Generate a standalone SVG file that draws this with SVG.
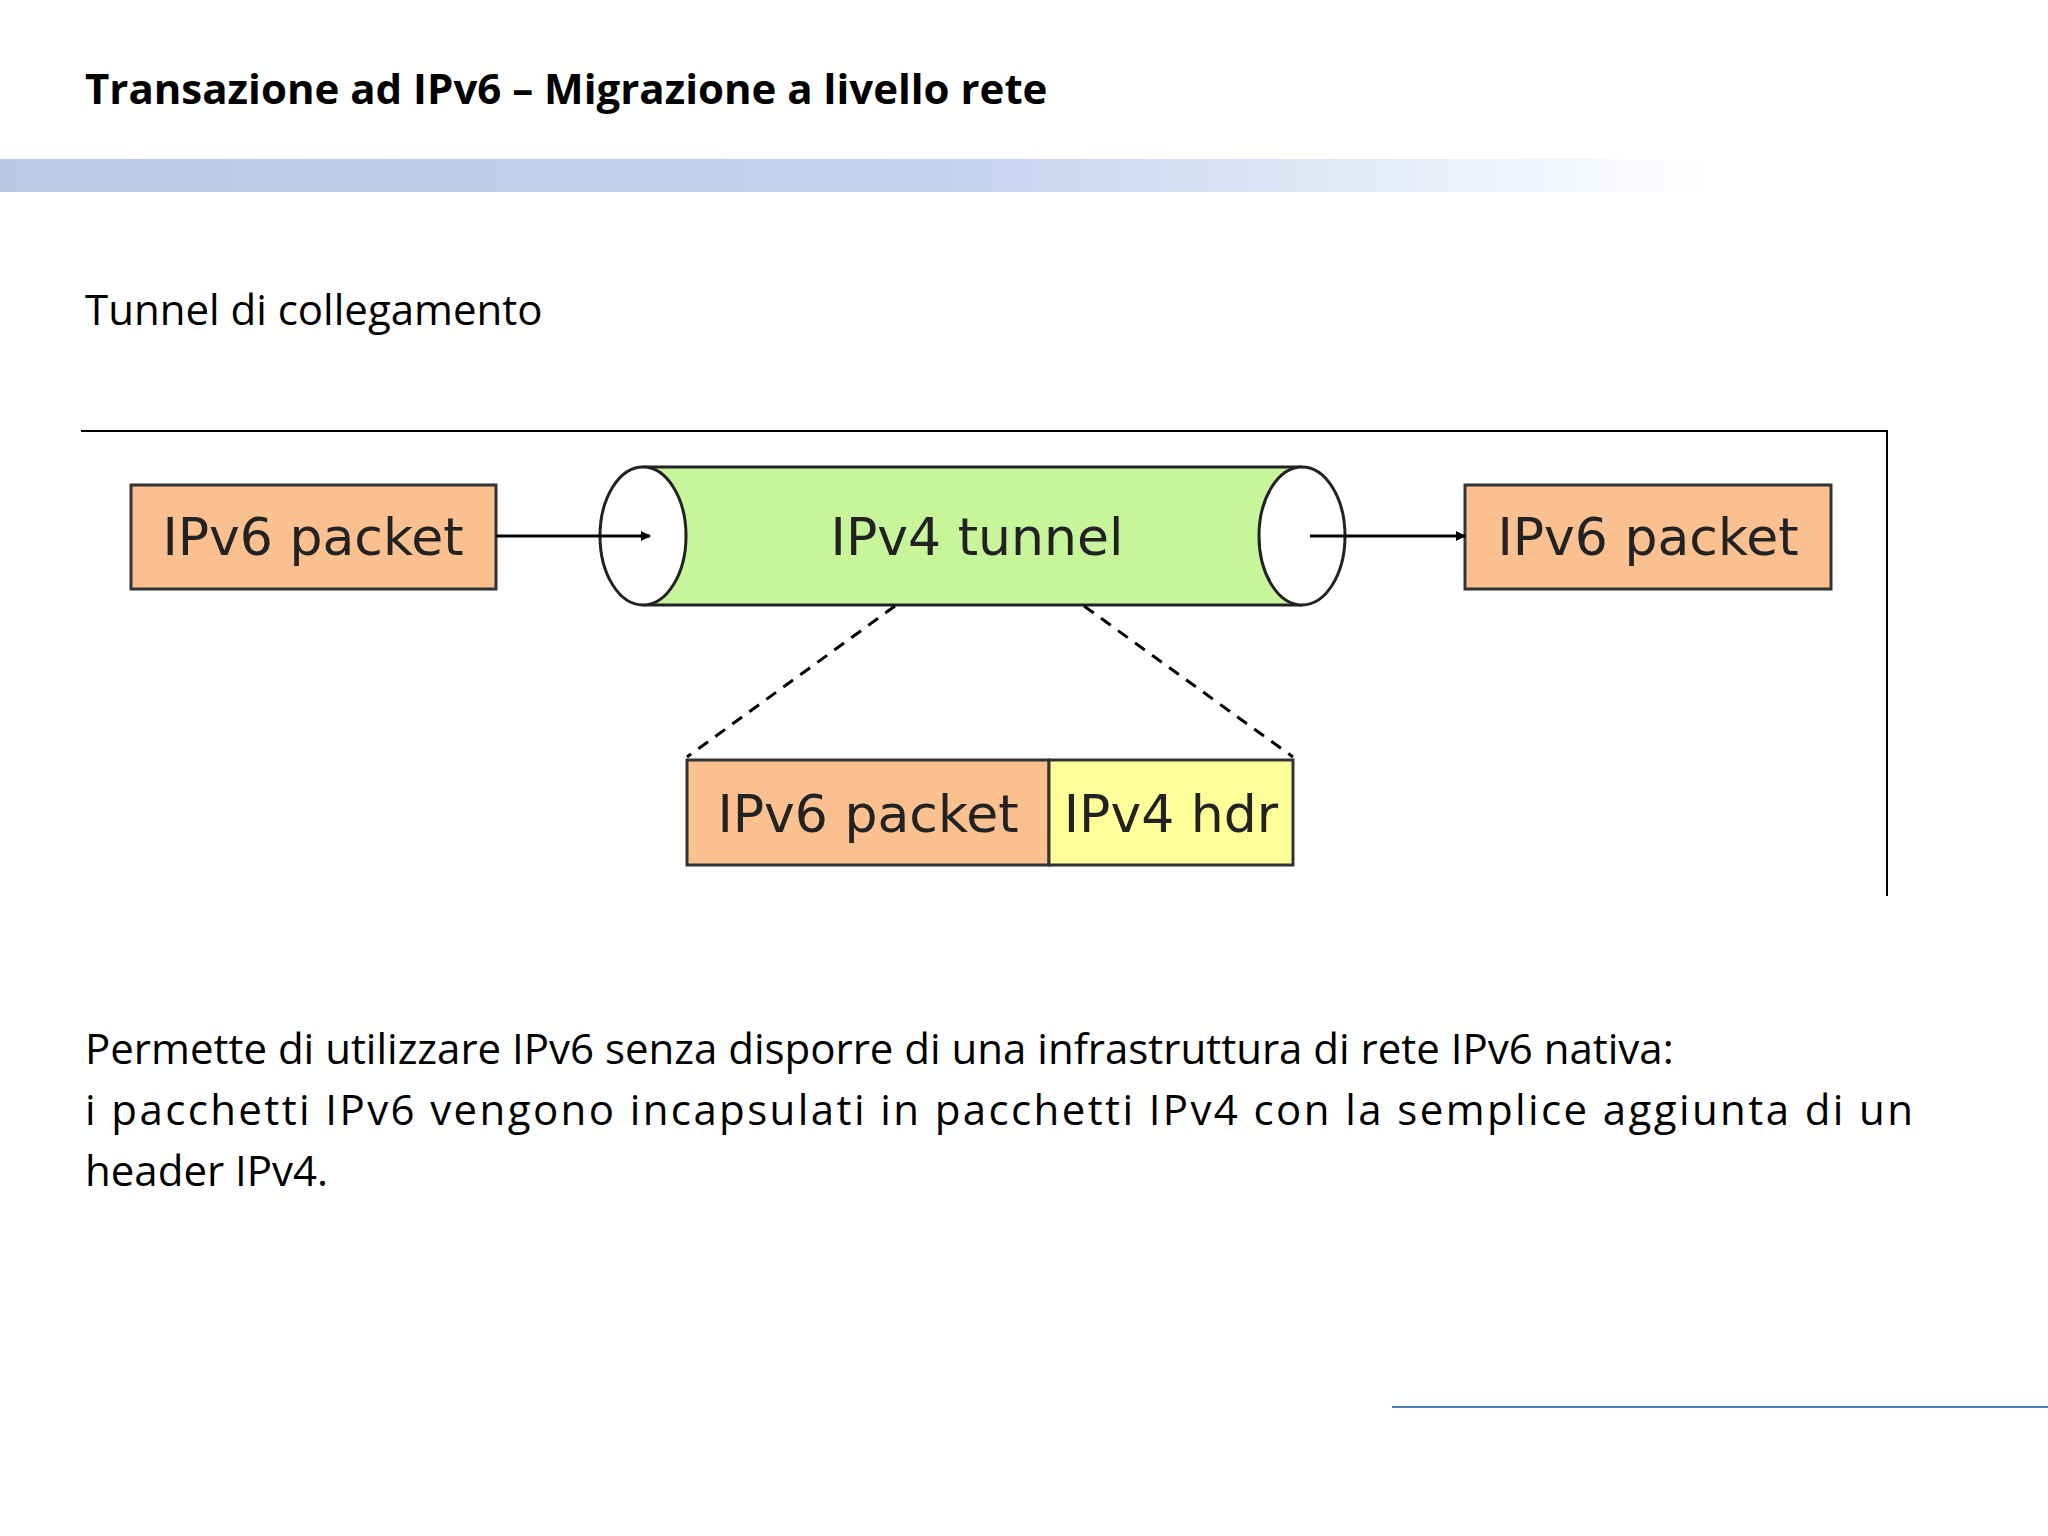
<svg xmlns="http://www.w3.org/2000/svg" width="2048" height="1536" viewBox="0 0 2048 1536">
<defs>
<linearGradient id="bar" x1="0" x2="1" y1="0" y2="0"><stop offset="0" stop-color="#b8c9e6"/><stop offset="0.55" stop-color="#c3d2ee"/><stop offset="1" stop-color="#ffffff"/></linearGradient>
<marker id="ah" markerWidth="10" markerHeight="10" refX="9" refY="5" orient="auto" markerUnits="userSpaceOnUse"><path d="M0,0 L10,5 L0,10 z" fill="#000"/></marker>
<style>
.t{font-family:"Open Sans","Liberation Sans",sans-serif;fill:#000}
.d{font-family:"DejaVu Sans","Liberation Sans",sans-serif;font-size:52px;fill:#222}
.box{stroke:#333;stroke-width:3}
</style>
</defs>
<rect width="2048" height="1536" fill="#fff"/>
<text class="t" x="85" y="104" font-size="42" font-weight="bold">Transazione ad IPv6 – Migrazione a livello rete</text>
<rect x="0" y="159" width="1720" height="33" fill="url(#bar)"/>
<text class="t" x="85" y="325" font-size="42">Tunnel di collegamento</text>
<g id="frame" fill="none" stroke="#000" stroke-width="2"><path d="M81,431 H1887 V896"/></g>
<g id="left"><rect class="box" x="131" y="485" width="365" height="104" fill="#fac090"/><text class="d" x="313" y="555" text-anchor="middle">IPv6 packet</text></g>
<g id="tunnel">
<path d="M643,467 H1302 V605 H643 Z" fill="#c6f59a" stroke="none"/>
<path d="M643,467 H1302 M643,605 H1302" stroke="#222" stroke-width="3"/>
<ellipse cx="643" cy="536" rx="43" ry="69" fill="#fff" stroke="#222" stroke-width="3"/>
<path d="M1302,467 A43,69 0 0 0 1302,605" fill="#fff" stroke="#222" stroke-width="3"/>
<path d="M1302,467 A43,69 0 0 1 1302,605" fill="#fff" stroke="#222" stroke-width="3"/>
<text class="d" x="977" y="555" text-anchor="middle">IPv4 tunnel</text>
</g>
<g id="right"><rect class="box" x="1465" y="485" width="366" height="104" fill="#fac090"/><text class="d" x="1648" y="555" text-anchor="middle">IPv6 packet</text></g>
<g id="bottom">
<rect class="box" x="687" y="760" width="362" height="105" fill="#fac090"/>
<rect class="box" x="1049" y="760" width="244" height="105" fill="#ffff99"/>
<text class="d" x="868" y="832" text-anchor="middle">IPv6 packet</text>
<text class="d" x="1171" y="832" text-anchor="middle">IPv4 hdr</text>
</g>
<g id="connectors" stroke="#000" stroke-width="3" fill="none">
<path d="M496,536 H650" marker-end="url(#ah)"/>
<path d="M1310,536 H1465" marker-end="url(#ah)"/>
<path d="M895,606 L687,757" stroke-dasharray="12,9"/>
<path d="M1084,606 L1293,757" stroke-dasharray="12,9"/>
</g>
<text class="t" x="85" y="1064" font-size="42">Permette di utilizzare IPv6 senza disporre di una infrastruttura di rete IPv6 nativa:</text>
<text class="t" x="85" y="1125" font-size="42" textLength="1828" lengthAdjust="spacing">i pacchetti IPv6 vengono incapsulati in pacchetti IPv4 con la semplice aggiunta di un</text>
<text class="t" x="85" y="1186" font-size="42">header IPv4.</text>
<path d="M1392,1407 H2048" stroke="#4f81bd" stroke-width="2"/>
</svg>
